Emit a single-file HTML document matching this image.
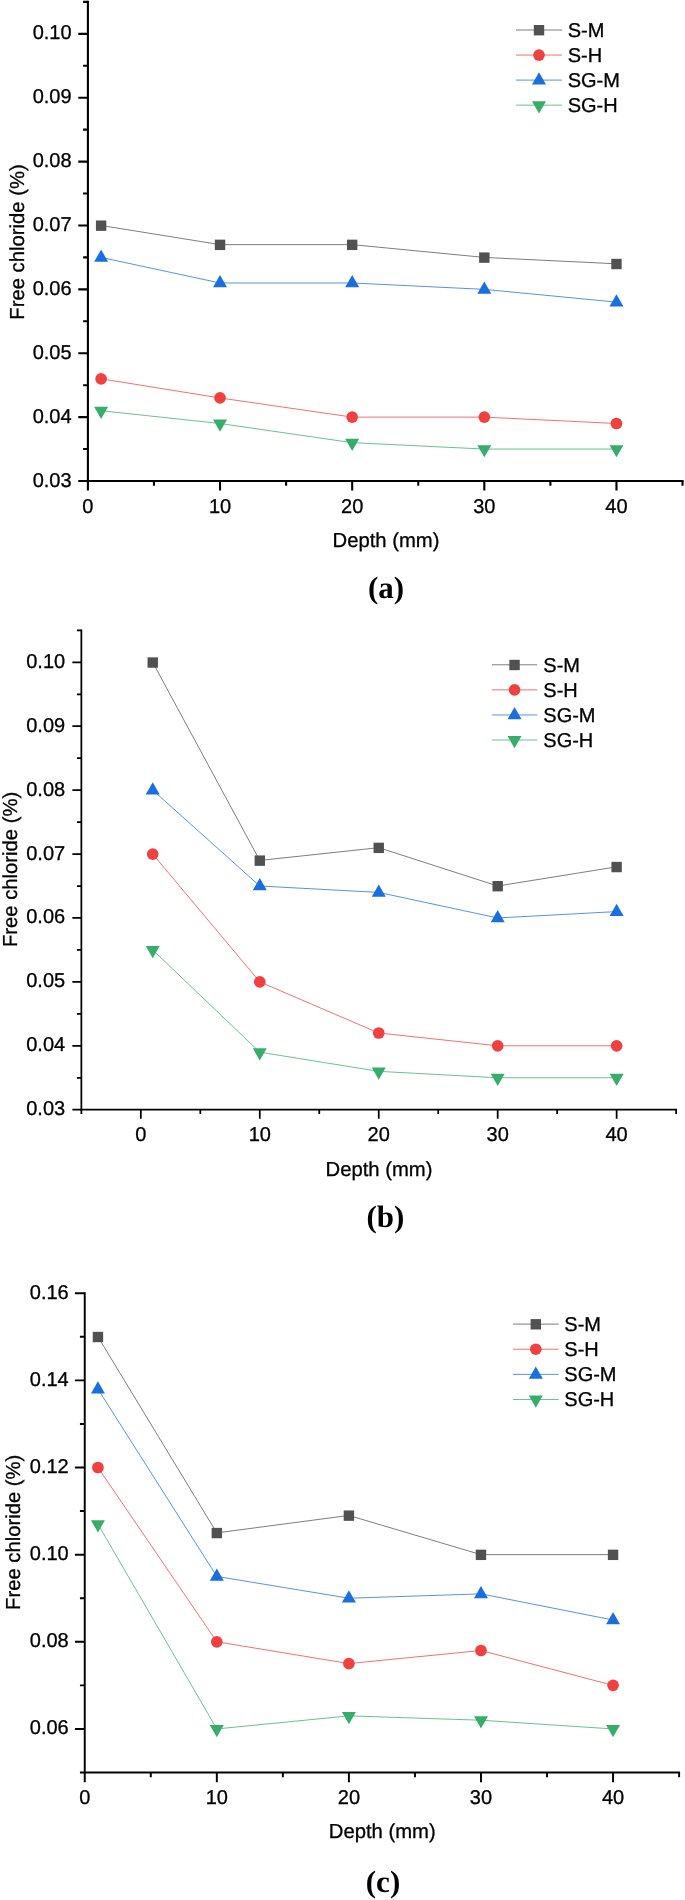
<!DOCTYPE html>
<html><head><meta charset="utf-8"><title>Free chloride vs depth</title>
<style>
html,body{margin:0;padding:0;background:#fff;}
body{width:685px;height:1900px;overflow:hidden;}
svg{display:block;will-change:transform;}
text{font-family:"Liberation Sans",sans-serif;fill:#000;text-rendering:geometricPrecision;stroke:#000;stroke-width:0.3px;}
text.cap{font-family:"Liberation Serif",serif;font-weight:bold;stroke:none;}
</style></head><body>
<svg width="685" height="1900" viewBox="0 0 685 1900">
<rect width="685" height="1900" fill="#fff"/>
<g id="chart-a">
<path d="M101.11 225.48 L220.04 244.64 L352.18 244.64 L484.32 257.42 L616.46 263.81" fill="none" stroke="#515151" stroke-width="0.75" stroke-opacity="1"/>
<path d="M101.11 378.79 L220.04 397.96 L352.18 417.12 L484.32 417.12 L616.46 423.51" fill="none" stroke="#f14040" stroke-width="0.75" stroke-opacity="1"/>
<path d="M101.11 257.42 L220.04 282.97 L352.18 282.97 L484.32 289.36 L616.46 302.14" fill="none" stroke="#1a6fdf" stroke-width="0.75" stroke-opacity="1"/>
<path d="M101.11 410.73 L220.04 423.51 L352.18 442.67 L484.32 449.06 L616.46 449.06" fill="none" stroke="#37ad6b" stroke-width="0.75" stroke-opacity="1"/>
<rect x="95.91" y="220.48" width="10.40" height="10.40" fill="#515151"/>
<rect x="214.84" y="239.64" width="10.40" height="10.40" fill="#515151"/>
<rect x="346.98" y="239.64" width="10.40" height="10.40" fill="#515151"/>
<rect x="479.12" y="252.42" width="10.40" height="10.40" fill="#515151"/>
<rect x="611.26" y="258.81" width="10.40" height="10.40" fill="#515151"/>
<circle cx="101.11" cy="378.79" r="5.85" fill="#f14040"/>
<circle cx="220.04" cy="397.96" r="5.85" fill="#f14040"/>
<circle cx="352.18" cy="417.12" r="5.85" fill="#f14040"/>
<circle cx="484.32" cy="417.12" r="5.85" fill="#f14040"/>
<circle cx="616.46" cy="423.51" r="5.85" fill="#f14040"/>
<path d="M94.11 261.72L108.11 261.72L101.11 249.52Z" fill="#1a6fdf"/>
<path d="M213.04 287.27L227.04 287.27L220.04 275.07Z" fill="#1a6fdf"/>
<path d="M345.18 287.27L359.18 287.27L352.18 275.07Z" fill="#1a6fdf"/>
<path d="M477.32 293.66L491.32 293.66L484.32 281.46Z" fill="#1a6fdf"/>
<path d="M609.46 306.44L623.46 306.44L616.46 294.24Z" fill="#1a6fdf"/>
<path d="M94.11 406.83L108.11 406.83L101.11 419.03Z" fill="#37ad6b"/>
<path d="M213.04 419.61L227.04 419.61L220.04 431.81Z" fill="#37ad6b"/>
<path d="M345.18 438.77L359.18 438.77L352.18 450.97Z" fill="#37ad6b"/>
<path d="M477.32 445.16L491.32 445.16L484.32 457.36Z" fill="#37ad6b"/>
<path d="M609.46 445.16L623.46 445.16L616.46 457.36Z" fill="#37ad6b"/>
<path d="M87.90 0.85L87.90 481.00M86.85 481.00L683.58 481.00" stroke="#000" stroke-width="2.1" fill="none"/>
<text x="87.90" y="512.70" font-size="20" text-anchor="middle">0</text>
<text x="220.04" y="512.70" font-size="20" text-anchor="middle">10</text>
<text x="352.18" y="512.70" font-size="20" text-anchor="middle">20</text>
<text x="484.32" y="512.70" font-size="20" text-anchor="middle">30</text>
<text x="616.46" y="512.70" font-size="20" text-anchor="middle">40</text>
<text x="71.60" y="486.50" font-size="20" text-anchor="end">0.03</text>
<text x="71.60" y="422.62" font-size="20" text-anchor="end">0.04</text>
<text x="71.60" y="358.74" font-size="20" text-anchor="end">0.05</text>
<text x="71.60" y="294.86" font-size="20" text-anchor="end">0.06</text>
<text x="71.60" y="230.98" font-size="20" text-anchor="end">0.07</text>
<text x="71.60" y="167.10" font-size="20" text-anchor="end">0.08</text>
<text x="71.60" y="103.22" font-size="20" text-anchor="end">0.09</text>
<text x="71.60" y="39.34" font-size="20" text-anchor="end">0.10</text>
<path d="M87.90 481.00v9.60M153.97 481.00v4.80M220.04 481.00v9.60M286.11 481.00v4.80M352.18 481.00v9.60M418.25 481.00v4.80M484.32 481.00v9.60M550.39 481.00v4.80M616.46 481.00v9.60M682.53 481.00v4.80M87.90 481.00h-9.60M87.90 449.06h-4.80M87.90 417.12h-9.60M87.90 385.18h-4.80M87.90 353.24h-9.60M87.90 321.30h-4.80M87.90 289.36h-9.60M87.90 257.42h-4.80M87.90 225.48h-9.60M87.90 193.54h-4.80M87.90 161.60h-9.60M87.90 129.66h-4.80M87.90 97.72h-9.60M87.90 65.78h-4.80M87.90 33.84h-9.60M87.90 1.90h-4.80" stroke="#000" stroke-width="2.1" fill="none"/>
<text x="386" y="547.3" font-size="20.25" text-anchor="middle">Depth (mm)</text>
<text transform="translate(23.5 242) rotate(-90)" font-size="20.25" text-anchor="middle">Free chloride (%)</text>
<path d="M516 30.0L562 30.0" stroke="#515151" stroke-width="0.75" stroke-opacity="1"/>
<rect x="533.80" y="25.00" width="10.40" height="10.40" fill="#515151"/>
<text x="567.7" y="37.20" font-size="20">S-M</text>
<path d="M516 55.05L562 55.05" stroke="#f14040" stroke-width="0.75" stroke-opacity="1"/>
<circle cx="539.00" cy="55.05" r="5.85" fill="#f14040"/>
<text x="567.7" y="62.25" font-size="20">S-H</text>
<path d="M516 80.1L562 80.1" stroke="#1a6fdf" stroke-width="0.75" stroke-opacity="1"/>
<path d="M532.00 84.40L546.00 84.40L539.00 72.20Z" fill="#1a6fdf"/>
<text x="567.7" y="87.30" font-size="20">SG-M</text>
<path d="M516 105.15L562 105.15" stroke="#37ad6b" stroke-width="0.75" stroke-opacity="1"/>
<path d="M532.00 101.25L546.00 101.25L539.00 113.45Z" fill="#37ad6b"/>
<text x="567.7" y="112.35" font-size="20">SG-H</text>
<text x="386" y="598" font-size="31" class="cap" text-anchor="middle">(a)</text>
</g>
<g id="chart-b">
<path d="M152.73 662.33 L259.78 860.45 L378.74 847.67 L497.69 886.01 L616.63 866.84" fill="none" stroke="#515151" stroke-width="0.75" stroke-opacity="1"/>
<path d="M152.73 854.06 L259.78 981.88 L378.74 1033.01 L497.69 1045.79 L616.63 1045.79" fill="none" stroke="#f14040" stroke-width="0.75" stroke-opacity="1"/>
<path d="M152.73 790.15 L259.78 886.01 L378.74 892.41 L497.69 917.97 L616.63 911.58" fill="none" stroke="#1a6fdf" stroke-width="0.75" stroke-opacity="1"/>
<path d="M152.73 949.93 L259.78 1052.18 L378.74 1071.35 L497.69 1077.75 L616.63 1077.75" fill="none" stroke="#37ad6b" stroke-width="0.75" stroke-opacity="1"/>
<rect x="147.53" y="657.33" width="10.40" height="10.40" fill="#515151"/>
<rect x="254.58" y="855.45" width="10.40" height="10.40" fill="#515151"/>
<rect x="373.54" y="842.67" width="10.40" height="10.40" fill="#515151"/>
<rect x="492.49" y="881.01" width="10.40" height="10.40" fill="#515151"/>
<rect x="611.43" y="861.84" width="10.40" height="10.40" fill="#515151"/>
<circle cx="152.73" cy="854.06" r="5.85" fill="#f14040"/>
<circle cx="259.78" cy="981.88" r="5.85" fill="#f14040"/>
<circle cx="378.74" cy="1033.01" r="5.85" fill="#f14040"/>
<circle cx="497.69" cy="1045.79" r="5.85" fill="#f14040"/>
<circle cx="616.63" cy="1045.79" r="5.85" fill="#f14040"/>
<path d="M145.73 794.45L159.73 794.45L152.73 782.25Z" fill="#1a6fdf"/>
<path d="M252.78 890.31L266.78 890.31L259.78 878.12Z" fill="#1a6fdf"/>
<path d="M371.74 896.71L385.74 896.71L378.74 884.51Z" fill="#1a6fdf"/>
<path d="M490.69 922.27L504.69 922.27L497.69 910.07Z" fill="#1a6fdf"/>
<path d="M609.63 915.88L623.63 915.88L616.63 903.68Z" fill="#1a6fdf"/>
<path d="M145.73 946.03L159.73 946.03L152.73 958.23Z" fill="#37ad6b"/>
<path d="M252.78 1048.28L266.78 1048.28L259.78 1060.48Z" fill="#37ad6b"/>
<path d="M371.74 1067.45L385.74 1067.45L378.74 1079.65Z" fill="#37ad6b"/>
<path d="M490.69 1073.85L504.69 1073.85L497.69 1086.05Z" fill="#37ad6b"/>
<path d="M609.63 1073.85L623.63 1073.85L616.63 1086.05Z" fill="#37ad6b"/>
<path d="M81.36 629.50L81.36 1109.70M80.48 1109.70L676.99 1109.70" stroke="#000" stroke-width="1.75" fill="none"/>
<text x="140.83" y="1141.00" font-size="20" text-anchor="middle">0</text>
<text x="259.78" y="1141.00" font-size="20" text-anchor="middle">10</text>
<text x="378.74" y="1141.00" font-size="20" text-anchor="middle">20</text>
<text x="497.69" y="1141.00" font-size="20" text-anchor="middle">30</text>
<text x="616.63" y="1141.00" font-size="20" text-anchor="middle">40</text>
<text x="65.16" y="1115.20" font-size="20" text-anchor="end">0.03</text>
<text x="65.16" y="1051.29" font-size="20" text-anchor="end">0.04</text>
<text x="65.16" y="987.38" font-size="20" text-anchor="end">0.05</text>
<text x="65.16" y="923.47" font-size="20" text-anchor="end">0.06</text>
<text x="65.16" y="859.56" font-size="20" text-anchor="end">0.07</text>
<text x="65.16" y="795.65" font-size="20" text-anchor="end">0.08</text>
<text x="65.16" y="731.74" font-size="20" text-anchor="end">0.09</text>
<text x="65.16" y="667.83" font-size="20" text-anchor="end">0.10</text>
<path d="M81.36 1109.70v4.40M140.83 1109.70v9.00M200.31 1109.70v4.40M259.78 1109.70v9.00M319.26 1109.70v4.40M378.74 1109.70v9.00M438.21 1109.70v4.40M497.69 1109.70v9.00M557.16 1109.70v4.40M616.63 1109.70v9.00M676.11 1109.70v4.40M81.36 1109.70h-9.00M81.36 1077.75h-4.40M81.36 1045.79h-9.00M81.36 1013.84h-4.40M81.36 981.88h-9.00M81.36 949.93h-4.40M81.36 917.97h-9.00M81.36 886.02h-4.40M81.36 854.06h-9.00M81.36 822.11h-4.40M81.36 790.15h-9.00M81.36 758.19h-4.40M81.36 726.24h-9.00M81.36 694.28h-4.40M81.36 662.33h-9.00M81.36 630.37h-4.40" stroke="#000" stroke-width="1.75" fill="none"/>
<text x="379" y="1175.9" font-size="20.25" text-anchor="middle">Depth (mm)</text>
<text transform="translate(16.6 869.4) rotate(-90)" font-size="20.25" text-anchor="middle">Free chloride (%)</text>
<path d="M491.9 664.8L537.2 664.8" stroke="#515151" stroke-width="0.75" stroke-opacity="1"/>
<rect x="509.35" y="659.80" width="10.40" height="10.40" fill="#515151"/>
<text x="543.3" y="671.60" font-size="20">S-M</text>
<path d="M491.9 689.87L537.2 689.87" stroke="#f14040" stroke-width="0.75" stroke-opacity="1"/>
<circle cx="514.55" cy="689.87" r="5.85" fill="#f14040"/>
<text x="543.3" y="696.67" font-size="20">S-H</text>
<path d="M491.9 714.9399999999999L537.2 714.9399999999999" stroke="#1a6fdf" stroke-width="0.75" stroke-opacity="1"/>
<path d="M507.55 719.24L521.55 719.24L514.55 707.04Z" fill="#1a6fdf"/>
<text x="543.3" y="721.74" font-size="20">SG-M</text>
<path d="M491.9 740.01L537.2 740.01" stroke="#37ad6b" stroke-width="0.75" stroke-opacity="1"/>
<path d="M507.55 736.11L521.55 736.11L514.55 748.31Z" fill="#37ad6b"/>
<text x="543.3" y="746.81" font-size="20">SG-H</text>
<text x="385.5" y="1227" font-size="31" class="cap" text-anchor="middle">(b)</text>
</g>
<g id="chart-c">
<path d="M97.95 1336.80 L216.82 1532.87 L348.90 1515.44 L480.98 1554.65 L613.06 1554.65" fill="none" stroke="#515151" stroke-width="0.75" stroke-opacity="1"/>
<path d="M97.95 1467.51 L216.82 1641.79 L348.90 1663.58 L480.98 1650.50 L613.06 1685.36" fill="none" stroke="#f14040" stroke-width="0.75" stroke-opacity="1"/>
<path d="M97.95 1389.08 L216.82 1576.43 L348.90 1598.22 L480.98 1593.86 L613.06 1620.01" fill="none" stroke="#1a6fdf" stroke-width="0.75" stroke-opacity="1"/>
<path d="M97.95 1524.15 L216.82 1728.93 L348.90 1715.86 L480.98 1720.22 L613.06 1728.93" fill="none" stroke="#37ad6b" stroke-width="0.75" stroke-opacity="1"/>
<rect x="92.75" y="1331.80" width="10.40" height="10.40" fill="#515151"/>
<rect x="211.62" y="1527.87" width="10.40" height="10.40" fill="#515151"/>
<rect x="343.70" y="1510.44" width="10.40" height="10.40" fill="#515151"/>
<rect x="475.78" y="1549.65" width="10.40" height="10.40" fill="#515151"/>
<rect x="607.86" y="1549.65" width="10.40" height="10.40" fill="#515151"/>
<circle cx="97.95" cy="1467.51" r="5.85" fill="#f14040"/>
<circle cx="216.82" cy="1641.79" r="5.85" fill="#f14040"/>
<circle cx="348.90" cy="1663.58" r="5.85" fill="#f14040"/>
<circle cx="480.98" cy="1650.50" r="5.85" fill="#f14040"/>
<circle cx="613.06" cy="1685.36" r="5.85" fill="#f14040"/>
<path d="M90.95 1393.38L104.95 1393.38L97.95 1381.18Z" fill="#1a6fdf"/>
<path d="M209.82 1580.73L223.82 1580.73L216.82 1568.53Z" fill="#1a6fdf"/>
<path d="M341.90 1602.52L355.90 1602.52L348.90 1590.32Z" fill="#1a6fdf"/>
<path d="M473.98 1598.16L487.98 1598.16L480.98 1585.96Z" fill="#1a6fdf"/>
<path d="M606.06 1624.31L620.06 1624.31L613.06 1612.11Z" fill="#1a6fdf"/>
<path d="M90.95 1520.25L104.95 1520.25L97.95 1532.45Z" fill="#37ad6b"/>
<path d="M209.82 1725.03L223.82 1725.03L216.82 1737.23Z" fill="#37ad6b"/>
<path d="M341.90 1711.96L355.90 1711.96L348.90 1724.16Z" fill="#37ad6b"/>
<path d="M473.98 1716.32L487.98 1716.32L480.98 1728.52Z" fill="#37ad6b"/>
<path d="M606.06 1725.03L620.06 1725.03L613.06 1737.23Z" fill="#37ad6b"/>
<path d="M84.74 1292.26L84.74 1772.50M83.77 1772.50L680.08 1772.50" stroke="#000" stroke-width="1.95" fill="none"/>
<text x="84.74" y="1804.00" font-size="20" text-anchor="middle">0</text>
<text x="216.82" y="1804.00" font-size="20" text-anchor="middle">10</text>
<text x="348.90" y="1804.00" font-size="20" text-anchor="middle">20</text>
<text x="480.98" y="1804.00" font-size="20" text-anchor="middle">30</text>
<text x="613.06" y="1804.00" font-size="20" text-anchor="middle">40</text>
<text x="68.74" y="1734.43" font-size="20" text-anchor="end">0.06</text>
<text x="68.74" y="1647.29" font-size="20" text-anchor="end">0.08</text>
<text x="68.74" y="1560.15" font-size="20" text-anchor="end">0.10</text>
<text x="68.74" y="1473.01" font-size="20" text-anchor="end">0.12</text>
<text x="68.74" y="1385.87" font-size="20" text-anchor="end">0.14</text>
<text x="68.74" y="1298.73" font-size="20" text-anchor="end">0.16</text>
<path d="M84.74 1772.50v9.80M150.78 1772.50v4.80M216.82 1772.50v9.80M282.86 1772.50v4.80M348.90 1772.50v9.80M414.94 1772.50v4.80M480.98 1772.50v9.80M547.02 1772.50v4.80M613.06 1772.50v9.80M679.10 1772.50v4.80M84.74 1772.50h-4.80M84.74 1728.93h-9.80M84.74 1685.36h-4.80M84.74 1641.79h-9.80M84.74 1598.22h-4.80M84.74 1554.65h-9.80M84.74 1511.08h-4.80M84.74 1467.51h-9.80M84.74 1423.94h-4.80M84.74 1380.37h-9.80M84.74 1336.80h-4.80M84.74 1293.23h-9.80" stroke="#000" stroke-width="1.95" fill="none"/>
<text x="382.3" y="1838.4" font-size="20.25" text-anchor="middle">Depth (mm)</text>
<text transform="translate(20.1 1532.3) rotate(-90)" font-size="20.25" text-anchor="middle">Free chloride (%)</text>
<path d="M512.9 1324.1L558.7 1324.1" stroke="#515151" stroke-width="0.75" stroke-opacity="1"/>
<rect x="530.60" y="1319.10" width="10.40" height="10.40" fill="#515151"/>
<text x="564.3" y="1331.00" font-size="20">S-M</text>
<path d="M512.9 1349.23L558.7 1349.23" stroke="#f14040" stroke-width="0.75" stroke-opacity="1"/>
<circle cx="535.80" cy="1349.23" r="5.85" fill="#f14040"/>
<text x="564.3" y="1356.13" font-size="20">S-H</text>
<path d="M512.9 1374.36L558.7 1374.36" stroke="#1a6fdf" stroke-width="0.75" stroke-opacity="1"/>
<path d="M528.80 1378.66L542.80 1378.66L535.80 1366.46Z" fill="#1a6fdf"/>
<text x="564.3" y="1381.26" font-size="20">SG-M</text>
<path d="M512.9 1399.49L558.7 1399.49" stroke="#37ad6b" stroke-width="0.75" stroke-opacity="1"/>
<path d="M528.80 1395.59L542.80 1395.59L535.80 1407.79Z" fill="#37ad6b"/>
<text x="564.3" y="1406.39" font-size="20">SG-H</text>
<text x="383" y="1892" font-size="31" class="cap" text-anchor="middle">(c)</text>
</g>
</svg>
</body></html>
